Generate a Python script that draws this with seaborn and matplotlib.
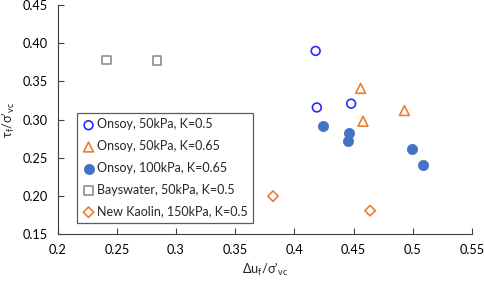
import matplotlib
matplotlib.use("Agg")
import matplotlib.pyplot as plt
import seaborn as sns
import pandas as pd

sns.set_style("ticks")
plt.rcParams['font.family'] = ['Lato', 'DejaVu Sans']
plt.rcParams['mathtext.default'] = 'regular'

labels = ["Onsoy, 50kPa, K=0.5", "Onsoy, 50kPa, K=0.65", "Onsoy, 100kPa, K=0.65",
          "Bayswater, 50kPa, K=0.5", "New Kaolin, 150kPa, K=0.5"]
onsoy50_k05_x = [0.418, 0.419, 0.448]
onsoy50_k05_y = [0.390, 0.316, 0.321]
onsoy50_k065_x = [0.456, 0.458, 0.493]
onsoy50_k065_y = [0.341, 0.298, 0.312]
onsoy100_k065_x = [0.424, 0.446, 0.445, 0.499, 0.509]
onsoy100_k065_y = [0.292, 0.283, 0.272, 0.262, 0.241]
bays_x = [0.241, 0.284]
bays_y = [0.378, 0.377]
kaolin_x = [0.382, 0.464]
kaolin_y = [0.200, 0.181]

xs = [onsoy50_k05_x, onsoy50_k065_x, onsoy100_k065_x, bays_x, kaolin_x]
ys = [onsoy50_k05_y, onsoy50_k065_y, onsoy100_k065_y, bays_y, kaolin_y]
colors = ["#2a2aff", "#ED7D31", "#4472C4", "#8c8c8c", "#ED7D31"]
markers = ["o", "^", "o", "s", "D"]
filled = [False, False, True, False, False]
sizes = [40, 50, 55, 40, 28]

fig = plt.figure(figsize=(4.84, 2.81), dpi=100)
ax = fig.add_axes([0.119, 0.166, 0.856, 0.816])

for lab, x, y, c, m, f, s in zip(labels, xs, ys, colors, markers, filled, sizes):
    df = pd.DataFrame({"x": x, "y": y})
    if f:
        sns.scatterplot(data=df, x="x", y="y", ax=ax, marker=m, s=s, color=c,
                        edgecolor=c, linewidth=0.5, label=lab)
    else:
        sns.scatterplot(data=df, x="x", y="y", ax=ax, marker=m, s=s,
                        facecolor="none", edgecolor=c, linewidth=1.2, label=lab)

ax.set_xlim(0.2, 0.55)
ax.set_ylim(0.15, 0.45)
ax.set_xticks([0.2, 0.25, 0.3, 0.35, 0.4, 0.45, 0.5, 0.55])
ax.set_xticklabels(["0.2", "0.25", "0.3", "0.35", "0.4", "0.45", "0.5", "0.55"])
ax.set_yticks([0.15, 0.2, 0.25, 0.3, 0.35, 0.4, 0.45])
ax.set_yticklabels(["0.15", "0.20", "0.25", "0.30", "0.35", "0.40", "0.45"])
ax.tick_params(direction="in", length=4, width=0.8, colors="#404040", labelcolor="black",
               labelsize=9.2, pad=7)
for sp in ["top", "right"]:
    ax.spines[sp].set_visible(False)
for sp in ["left", "bottom"]:
    ax.spines[sp].set_color("#404040")
    ax.spines[sp].set_linewidth(0.8)

ax.set_xlabel("Δu$_f$/σ'$_{vc}$", fontsize=9.2, labelpad=4)
ax.set_ylabel("τ$_f$/σ'$_{vc}$", fontsize=9.2, labelpad=4)

leg = ax.legend(loc="lower left", bbox_to_anchor=(0.046, 0.049), frameon=True,
                fancybox=False, edgecolor="#333333", fontsize=9.0, handletextpad=0.15,
                labelspacing=0.78, borderpad=0.45, handlelength=1.0, borderaxespad=0)
leg.get_frame().set_linewidth(0.9)

fig.savefig("out.png", dpi=100)
